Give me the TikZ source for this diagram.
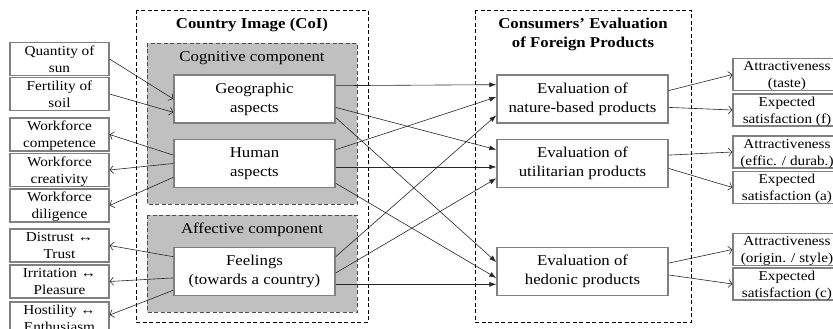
\documentclass[tikz,border=0pt]{standalone}
\usepackage{fontspec}
\setmainfont{Liberation Serif}[FakeStretch=1.12]
\usetikzlibrary{arrows.meta,calc}
\definecolor{boxgray}{RGB}{128,128,128}
\definecolor{compgray}{RGB}{192,192,192}
\begin{document}
\begin{tikzpicture}[x=1pt,y=-1pt]
				\tikzstyle{every node}=[inner sep=0pt]
				\tikzstyle{frame}=[draw=black,dash pattern=on 4pt off 2.5pt,line width=0.8pt]
				\tikzstyle{comp}=[draw=black!70,fill=compgray,dash pattern=on 4pt off 2.5pt,line width=0.9pt]
				\tikzstyle{heading}=[align=center,font=\bfseries\fontsize{15}{19}\selectfont]
				\tikzstyle{complabel}=[font=\fontsize{15}{19}\selectfont]
				\tikzstyle{mainbox}=[draw=boxgray,fill=white,line width=1.4pt,align=center,
				font=\fontsize{15}{19}\selectfont,minimum height=48pt]
				\tikzstyle{sidebox}=[draw=boxgray,fill=white,line width=1.2pt,align=center,
				font=\fontsize{13.6}{17}\selectfont,minimum height=33pt,text depth=-3pt]
				\tikzstyle{mid}=[-{Latex[length=7pt,width=5pt]},line width=0.6pt,black!85]
				\tikzstyle{side}=[-{Straight Barb[length=3.5pt,width=8pt]},line width=0.6pt,black!85]
				\useasboundingbox (0,0) rectangle (833,329);
				\clip (0,0) rectangle (833,329);
				% dashed frames
				\draw[frame] (136,10) rectangle (368,322);
				\draw[frame] (475,10) rectangle (691,322);
				\draw[comp] (147,43) rectangle (357,204);
				\draw[comp] (147,215) rectangle (357,312);
				\node[heading] (coi) at (252,25) {Country Image (CoI)};
				\node[heading] (cep) at (583,34.5) {Consumers' Evaluation\\of Foreign Products};
				\node[complabel] (cogn) at (252,58) {Cognitive component};
				\node[complabel] (affe) at (252,230) {Affective component};
				% country image components
				\node[mainbox,minimum width=161pt] (geo) at (254.5,99) {Geographic\\aspects};
				\node[mainbox,minimum width=161pt] (human) at (254.5,163.5) {Human\\aspects};
				\node[mainbox,minimum width=161pt] (feel) at (254.5,271.5) {Feelings\\(towards a country)};
				% product evaluations
				\node[mainbox,minimum width=171pt] (nat) at (582.5,99) {Evaluation of\\nature-based products};
				\node[mainbox,minimum width=171pt] (util) at (582.5,163.5) {Evaluation of\\utilitarian products};
				\node[mainbox,minimum width=171pt] (hed) at (582.5,271.5) {Evaluation of\\hedonic products};
				% left column
				\node[sidebox,minimum width=99pt] (sun) at (59.5,59) {Quantity of\\sun};
				\node[sidebox,minimum width=99pt] (soil) at (59.5,94) {Fertility of\\soil};
				\node[sidebox,minimum width=99pt] (compet) at (59.5,134.5) {Workforce\\competence};
				\node[sidebox,minimum width=99pt] (creat) at (59.5,170) {Workforce\\creativity};
				\node[sidebox,minimum width=99pt] (dilig) at (59.5,205.5) {Workforce\\diligence};
				\node[sidebox,minimum width=99pt] (distr) at (59.5,245.5) {Distrust ↔\\Trust};
				\node[sidebox,minimum width=99pt] (irrit) at (59.5,281.5) {Irritation ↔\\Pleasure};
				\node[sidebox,minimum width=99pt] (hostil) at (59.5,318.5) {Hostility ↔\\Enthusiasm};
				% right column
				\node[sidebox,minimum width=108pt,minimum height=32pt] (a1) at (787,74.5) {Attractiveness\\(taste)};
				\node[sidebox,minimum width=108pt,minimum height=32pt] (e1) at (787,110) {Expected\\satisfaction (f)};
				\node[sidebox,minimum width=108pt,minimum height=32pt] (a2) at (787,152) {Attractiveness\\(effic. / durab.)};
				\node[sidebox,minimum width=108pt,minimum height=32pt] (e2) at (787,187.5) {Expected\\satisfaction (a)};
				\node[sidebox,minimum width=108pt,minimum height=32pt] (a3) at (787,249.5) {Attractiveness\\(origin. / style)};
				\node[sidebox,minimum width=108pt,minimum height=32pt] (e3) at (787,284) {Expected\\satisfaction (c)};
				% left arrows
				\draw[side] (sun.east) -- (geo.west);
				\draw[side] (soil.east) -- ($(geo.north west)!.77!(geo.south west)$);
				\draw[side] ($(human.north west)!.33!(human.south west)$) -- (compet.east);
				\draw[side] (human.west) -- (creat.east);
				\draw[side] ($(human.north west)!.78!(human.south west)$) -- (dilig.east);
				\draw[side] ($(feel.north west)!.2!(feel.south west)$) -- (distr.east);
				\draw[side] ($(feel.north west)!.63!(feel.south west)$) -- (irrit.east);
				\draw[side] ($(feel.north west)!.88!(feel.south west)$) -- ([yshift=3.5pt]hostil.east);
				% middle arrows
				\draw[mid] ($(geo.north east)!.23!(geo.south east)$) -- ($(nat.north west)!.21!(nat.south west)$);
				\draw[mid] ($(geo.north east)!.67!(geo.south east)$) -- ($(util.north west)!.22!(util.south west)$);
				\draw[mid] ($(geo.north east)!.875!(geo.south east)$) -- ($(hed.north west)!.31!(hed.south west)$);
				\draw[mid] ($(human.north east)!.22!(human.south east)$) -- ($(nat.north west)!.46!(nat.south west)$);
				\draw[mid] ($(human.north east)!.57!(human.south east)$) -- ($(util.north west)!.57!(util.south west)$);
				\draw[mid] ($(human.north east)!.9!(human.south east)$) -- ($(hed.north west)!.63!(hed.south west)$);
				\draw[mid] ($(feel.north east)!.2!(feel.south east)$) -- ($(nat.north west)!.83!(nat.south west)$);
				\draw[mid] ($(feel.north east)!.53!(feel.south east)$) -- ($(util.north west)!.8!(util.south west)$);
				\draw[mid] ($(feel.north east)!.76!(feel.south east)$) -- ($(hed.north west)!.76!(hed.south west)$);
				% right arrows
				\draw[side] ($(nat.north east)!.33!(nat.south east)$) -- (a1.west);
				\draw[side] ($(nat.north east)!.67!(nat.south east)$) -- (e1.west);
				\draw[side] ($(util.north east)!.33!(util.south east)$) -- (a2.west);
				\draw[side] ($(util.north east)!.6!(util.south east)$) -- (e2.west);
				\draw[side] ($(hed.north east)!.33!(hed.south east)$) -- (a3.west);
				\draw[side] ($(hed.north east)!.57!(hed.south east)$) -- (e3.west);
\end{tikzpicture}
\end{document}
